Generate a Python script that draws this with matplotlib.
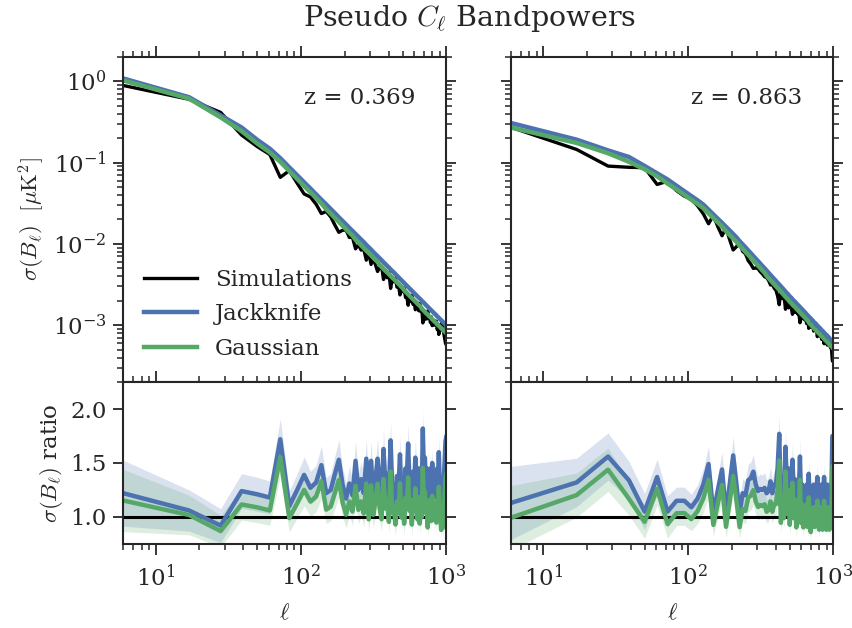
import numpy as np
import matplotlib
matplotlib.use("Agg")
import matplotlib.pyplot as plt

# multipole bin centres (shared by both redshift bins)
ell = [6, 17, 28, 39, 50, 61, 72, 83, 94, 105, 116, 127, 138, 149, 160, 171, 182, 193,
       204, 215, 226, 237, 248, 259, 270, 281, 292, 303, 314, 325, 336, 347, 358, 369,
       380, 391, 402, 413, 424, 435, 446, 457, 468, 479, 490, 501, 512, 523, 534, 545,
       556, 567, 578, 589, 600, 611, 622, 633, 644, 655, 666, 677, 688, 699, 710, 721,
       732, 743, 754, 765, 776, 787, 798, 809, 820, 831, 842, 853, 864, 875, 886, 897,
       908, 919, 930, 941, 952, 963, 974, 985, 996]

# ---- z = 0.369 ----
jk_z1 = [1.08, 0.635, 0.38, 0.27, 0.19, 0.148, 0.113, 0.0873, 0.0698, 0.0571, 0.0479,
         0.0405, 0.0349, 0.0305, 0.0268, 0.0238, 0.0212, 0.0191, 0.0173, 0.0157, 0.0144,
         0.0132, 0.0122, 0.0113, 0.0105, 0.0097, 0.00908, 0.00849, 0.00794, 0.00746,
         0.00705, 0.00665, 0.00628, 0.00594, 0.00564, 0.00536, 0.00511, 0.00485, 0.00463,
         0.00444, 0.00424, 0.00405, 0.00388, 0.00372, 0.00357, 0.00343, 0.00330, 0.00317,
         0.00305, 0.00295, 0.00284, 0.00274, 0.00265, 0.00256, 0.00248, 0.00240, 0.00232,
         0.00225, 0.00218, 0.00212, 0.00206, 0.00199, 0.00194, 0.00189, 0.00183, 0.00178,
         0.00173, 0.00169, 0.00164, 0.00160, 0.00156, 0.00152, 0.00148, 0.00145, 0.00141,
         0.00138, 0.00135, 0.00132, 0.00128, 0.00126, 0.00123, 0.00120, 0.00118, 0.00115,
         0.00113, 0.00110, 0.00108, 0.00106, 0.00104, 0.00102, 0.00100]
gauss_z1 = [1.02, 0.610, 0.359, 0.243, 0.171, 0.133, 0.102, 0.0786, 0.0628, 0.0514, 0.0431,
            0.0365, 0.0314, 0.0267, 0.0235, 0.0208, 0.0186, 0.0167, 0.0151, 0.0137, 0.0126,
            0.0112, 0.0104, 0.00958, 0.00888, 0.00825, 0.00772, 0.00722, 0.00675, 0.00634,
            0.00599, 0.00552, 0.00521, 0.00493, 0.00468, 0.00445, 0.00424, 0.00403, 0.00384,
            0.00369, 0.00352, 0.00336, 0.00322, 0.00309, 0.00296, 0.00285, 0.00269, 0.00258,
            0.00249, 0.00240, 0.00231, 0.00223, 0.00216, 0.00209, 0.00202, 0.00196, 0.00189,
            0.00183, 0.00178, 0.00173, 0.00168, 0.00159, 0.00155, 0.00151, 0.00146, 0.00142,
            0.00138, 0.00135, 0.00131, 0.00128, 0.00125, 0.00122, 0.00118, 0.00116, 0.00113,
            0.00110, 0.00108, 0.00106, 0.00102, 0.00101, 0.000984, 0.000960, 0.000944,
            0.000920, 0.000904, 0.000880, 0.000864, 0.000848, 0.000832, 0.000816, 0.000800]
ratio_jk_z1 = [1.22, 1.06, 0.92, 1.24, 1.21, 1.18, 1.72, 1.10, 1.25, 1.39,
               1.27, 1.32, 1.48, 1.22, 1.25, 1.40, 1.53, 1.30, 1.17, 1.31,
               1.20, 1.52, 1.25, 1.35, 1.22, 1.54, 1.15, 1.52, 1.20, 1.35,
               1.54, 1.30, 1.18, 1.63, 1.30, 1.40, 1.15, 1.71, 1.25, 1.30,
               1.12, 1.38, 1.25, 1.58, 1.20, 1.33, 1.15, 1.45, 1.35, 1.68,
               1.30, 1.40, 1.14, 1.42, 1.30, 1.55, 1.35, 1.20, 1.45, 1.15,
               1.40, 1.25, 1.82, 1.35, 1.55, 1.30, 1.45, 1.13, 1.35, 1.28,
               1.45, 1.20, 1.50, 1.28, 1.40, 1.22, 1.35, 1.18, 1.45, 1.30,
               1.60, 1.35, 1.25, 1.10, 1.30, 1.12, 1.25, 1.40, 1.55, 1.70, 1.74]
frac_z1 = [0.25, 0.18, 0.17, 0.13, 0.13, 0.13, 0.11, 0.13, 0.12, 0.12,
           0.12, 0.12, 0.12, 0.12, 0.12, 0.12, 0.12, 0.12, 0.12, 0.12,
           0.12, 0.12, 0.12, 0.12, 0.12, 0.12, 0.12, 0.12, 0.12, 0.12,
           0.12, 0.11, 0.11, 0.11, 0.11, 0.11, 0.11, 0.11, 0.11, 0.11,
           0.11, 0.11, 0.11, 0.11, 0.11, 0.11, 0.11, 0.11, 0.11, 0.11,
           0.11, 0.11, 0.11, 0.11, 0.11, 0.11, 0.11, 0.11, 0.11, 0.11,
           0.11, 0.10, 0.10, 0.10, 0.10, 0.10, 0.10, 0.10, 0.10, 0.10,
           0.10, 0.10, 0.10, 0.10, 0.10, 0.10, 0.10, 0.10, 0.10, 0.10,
           0.10, 0.10, 0.10, 0.10, 0.10, 0.10, 0.10, 0.10, 0.10, 0.10, 0.10]

# ---- z = 0.863 ----
jk_z2 = [0.306, 0.191, 0.141, 0.117, 0.0908, 0.0736, 0.0619, 0.0518, 0.0444, 0.0387,
         0.0343, 0.0304, 0.0263, 0.0230, 0.0203, 0.0181, 0.0162, 0.0146, 0.0132, 0.0120,
         0.0108, 0.00986, 0.00906, 0.00832, 0.00767, 0.00708, 0.00658, 0.00612, 0.00570,
         0.00532, 0.00500, 0.00469, 0.00440, 0.00415, 0.00391, 0.00370, 0.00351, 0.00332,
         0.00316, 0.00300, 0.00286, 0.00272, 0.00259, 0.00248, 0.00237, 0.00226, 0.00218,
         0.00208, 0.00200, 0.00194, 0.00186, 0.00179, 0.00173, 0.00167, 0.00161, 0.00156,
         0.00150, 0.00146, 0.00141, 0.00136, 0.00132, 0.00128, 0.00124, 0.00121, 0.00117,
         0.00114, 0.00110, 0.00107, 0.00105, 0.00102, 0.00099, 0.00096, 0.00094, 0.00092,
         0.00089, 0.00087, 0.00085, 0.00083, 0.00081, 0.00079, 0.00077, 0.00076, 0.00074,
         0.00072, 0.00071, 0.00069, 0.00067, 0.00066, 0.00065, 0.00064, 0.00062]
gauss_z2 = [0.269, 0.174, 0.130, 0.102, 0.0826, 0.0677, 0.0551, 0.0466, 0.0400, 0.0348,
            0.0309, 0.0274, 0.0237, 0.0207, 0.0183, 0.0163, 0.0143, 0.0128, 0.0116, 0.0106,
            0.0095, 0.00868, 0.00797, 0.00732, 0.00675, 0.00623, 0.00579, 0.00539, 0.00502,
            0.00468, 0.00440, 0.00403, 0.00378, 0.00357, 0.00336, 0.00318, 0.00302, 0.00286,
            0.00272, 0.00258, 0.00246, 0.00234, 0.00223, 0.00213, 0.00204, 0.00194, 0.00187,
            0.00179, 0.00172, 0.00167, 0.00160, 0.00154, 0.00149, 0.00144, 0.00138, 0.00134,
            0.00129, 0.00126, 0.00121, 0.00117, 0.00114, 0.00108, 0.00104, 0.00102, 0.000983,
            0.000958, 0.000924, 0.000899, 0.000882, 0.000857, 0.000832, 0.000806, 0.000790,
            0.000773, 0.000748, 0.000731, 0.000714, 0.000697, 0.000680, 0.000664, 0.000647,
            0.000638, 0.000622, 0.000605, 0.000596, 0.000580, 0.000563, 0.000554, 0.000546,
            0.000538, 0.000521]
ratio_jk_z2 = [1.13, 1.32, 1.56, 1.34, 1.05, 1.37, 1.05, 1.15, 1.15, 1.09,
               1.17, 1.30, 1.49, 1.03, 1.25, 1.44, 1.03, 1.30, 1.57, 1.30,
               1.03, 1.22, 1.20, 1.34, 1.36, 1.42, 1.30, 1.24, 1.26, 1.25,
               1.27, 1.22, 1.24, 1.33, 1.22, 1.30, 1.30, 1.45, 1.77, 1.10,
               1.35, 1.15, 1.65, 1.20, 1.45, 1.08, 1.30, 1.53, 1.15, 1.35,
               1.05, 1.30, 1.20, 1.56, 1.10, 1.30, 1.05, 1.25, 1.12, 1.30,
               1.05, 1.40, 1.15, 1.02, 1.25, 1.10, 1.30, 1.08, 1.20, 1.10,
               1.37, 1.15, 1.05, 1.25, 1.10, 1.30, 1.05, 1.20, 1.37, 1.08,
               1.25, 1.05, 1.30, 1.10, 1.20, 1.05, 1.25, 1.15, 1.35, 1.75, 1.74]
frac_z2 = [0.30, 0.17, 0.14, 0.13, 0.16, 0.12, 0.14, 0.11, 0.11, 0.11,
           0.11, 0.11, 0.11, 0.11, 0.11, 0.11, 0.11, 0.11, 0.11, 0.11,
           0.11, 0.11, 0.11, 0.11, 0.11, 0.11, 0.11, 0.11, 0.11, 0.11,
           0.11, 0.10, 0.10, 0.10, 0.10, 0.10, 0.10, 0.10, 0.10, 0.10,
           0.10, 0.10, 0.10, 0.10, 0.10, 0.10, 0.10, 0.10, 0.10, 0.10,
           0.10, 0.10, 0.10, 0.10, 0.10, 0.10, 0.10, 0.10, 0.10, 0.10,
           0.10, 0.09, 0.09, 0.09, 0.09, 0.09, 0.09, 0.09, 0.09, 0.09,
           0.09, 0.09, 0.09, 0.09, 0.09, 0.09, 0.09, 0.09, 0.09, 0.09,
           0.09, 0.09, 0.09, 0.09, 0.09, 0.09, 0.09, 0.09, 0.09, 0.09, 0.09]

z_labels = ["z = 0.369", "z = 0.863"]

BLUE = "#4C72B0"
GREEN = "#55A868"
DARK = "#262626"

plt.rcParams.update({
    "font.family": "serif",
    "font.serif": ["DejaVu Serif"],
    "mathtext.fontset": "cm",
    "font.size": 16.5,
    "text.color": DARK,
    "axes.labelcolor": DARK,
    "axes.linewidth": 1.5,
    "axes.edgecolor": DARK,
    "xtick.color": DARK,
    "ytick.color": DARK,
    "xtick.direction": "out",
    "ytick.direction": "out",
    "xtick.major.size": 8,
    "ytick.major.size": 7,
    "xtick.minor.size": 4.3,
    "ytick.minor.size": 4,
    "xtick.major.width": 1.3,
    "ytick.major.width": 1.3,
    "xtick.minor.width": 1.1,
    "ytick.minor.width": 1.1,
    "xtick.major.pad": 7,
    "ytick.major.pad": 5,
})

fig = plt.figure(figsize=(8.53, 6.28), dpi=100)

lefts = [0.1446, 0.5991]
widths = [0.3788, 0.3778]
top_axes = [fig.add_axes([l, 0.3917, w, 0.518]) for l, w in zip(lefts, widths)]
bot_axes = [fig.add_axes([l, 0.1338, w, 0.2579]) for l, w in zip(lefts, widths)]

panels = [
    (jk_z1, gauss_z1, ratio_jk_z1, frac_z1),
    (jk_z2, gauss_z2, ratio_jk_z2, frac_z2),
]

x = np.array(ell, dtype=float)

for i, (jk, gauss, ratio_jk, frac) in enumerate(panels):
    ax_t = top_axes[i]
    ax_b = bot_axes[i]

    jk = np.array(jk)
    gauss = np.array(gauss)
    ratio_jk = np.array(ratio_jk)
    frac = np.array(frac)

    # simulation scatter and gaussian ratio follow from the jackknife curve and its ratio
    sim = jk / ratio_jk
    ratio_g = gauss / sim

    ax_t.plot(x, sim, color="black", lw=2.4, label="Simulations")
    ax_t.plot(x, jk, color=BLUE, lw=3.2, label="Jackknife")
    ax_t.plot(x, gauss, color=GREEN, lw=3.2, label="Gaussian")

    ax_b.fill_between(x, ratio_jk * (1 - frac), ratio_jk * (1 + frac),
                      color=BLUE, alpha=0.2, lw=0)
    ax_b.fill_between(x, ratio_g * (1 - frac), ratio_g * (1 + frac),
                      color=GREEN, alpha=0.2, lw=0)
    ax_b.axhline(1.0, color="black", lw=2.2)
    ax_b.plot(x, ratio_jk, color=BLUE, lw=3.2)
    ax_b.plot(x, ratio_g, color=GREEN, lw=3.2)

    for ax in (ax_t, ax_b):
        ax.set_xscale("log")
        ax.set_xlim(6, 1000)

    ax_t.set_yscale("log")
    ax_t.set_ylim(2e-4, 2)
    ax_t.tick_params(which="both", top=True, bottom=False, right=True,
                     labelbottom=False)
    ax_t.text(0.905, 0.874, z_labels[i], transform=ax_t.transAxes,
              ha="right", va="center")

    ax_b.set_ylim(0.75, 2.25)
    ax_b.set_yticks([1.0, 1.5, 2.0])
    ax_b.tick_params(which="both", top=True, bottom=True, right=True)
    ax_b.set_xlabel(r"$\ell$", labelpad=8)

    if i == 1:
        ax_t.tick_params(labelleft=False)
        ax_b.tick_params(labelleft=False)

top_axes[0].set_ylabel(r"$\sigma(B_\ell)\ \ [\mu{\rm K}^2]$")
bot_axes[0].set_ylabel(r"$\sigma(B_\ell)$ ratio")

top_axes[0].legend(loc="lower left", bbox_to_anchor=(0.0, 0.005), frameon=False,
                   handlelength=2.3, handletextpad=0.8, labelspacing=0.55)

fig.text(0.55, 0.971, r"Pseudo $C_\ell$ Bandpowers", ha="center", va="center",
         fontsize=20.5)

fig.savefig("out.png", dpi=100)
